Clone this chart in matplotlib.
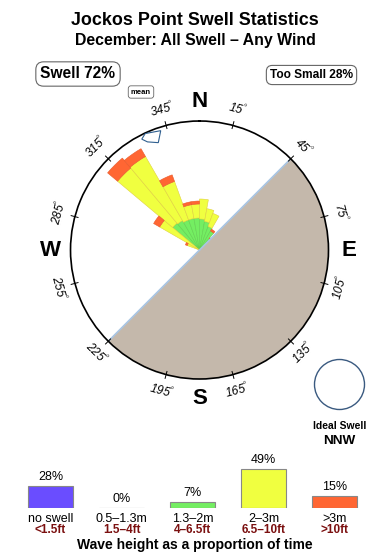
import numpy as np
import matplotlib
matplotlib.use('Agg')
import matplotlib.pyplot as plt
from matplotlib.patches import Circle

plt.rcParams['font.family'] = ['Liberation Sans', 'DejaVu Sans']
plt.rcParams['mathtext.fontset'] = 'custom'
plt.rcParams['mathtext.rm'] = 'Liberation Sans'

# swell rose: % of time per 10 deg sector (sector start, clockwise from N)
dir_start = [290, 300, 310, 320, 330, 340, 350, 0, 10, 20, 30, 40]
pct_green = [0.0, 0.0, 3.5, 3.4, 3.2, 3.2, 3.2, 3.1, 2.9, 2.5, 2.2, 1.5]
pct_yellow = [1.3, 4.6, 7.2, 7.4, 4.1, 1.4, 1.4, 2.0, 1.3, 1.4, 0.0, 0.0]
pct_orange = [0.2, 0.7, 1.3, 0.9, 0.7, 0.3, 0.3, 0.0, 0.0, 0.0, 0.2, 0.1]
rose_max = 12.9

land_from = 45      # land covers 45 -> 225 deg
mean_dir = 338

deg_ticks = [15, 45, 75, 105, 135, 165, 195, 225, 255, 285, 315, 345]
compass = ['N', 'E', 'S', 'W']

# bottom key
band_pct = [28, 0, 7, 49, 15]
band_m = ['no swell', '0.5\u20131.3m', '1.3\u20132m', '2\u20133m', '>3m']
band_ft = ['<1.5ft', '1.5\u20134ft', '4\u20136.5ft', '6.5\u201310ft', '>10ft']

BLUE = '#6a4dff'
GREY = '#bbbbbb'
GREEN = '#74ee62'
YELLOW = '#f0ff40'
ORANGE = '#ff6633'
LAND = '#c4b8ab'
band_col = [BLUE, GREY, GREEN, YELLOW, ORANGE]

fig = plt.figure(figsize=(3.9, 5.6), dpi=100)

# overlay in pixel coords for the texts
top = fig.add_axes([0, 0, 1, 1])
top.set_xlim(0, 390)
top.set_ylim(560, 0)
top.axis('off')

top.text(195, 25, 'Jockos Point Swell Statistics', ha='center', va='baseline',
         fontsize=12.9, fontweight='bold')
top.text(195, 45, 'December: All Swell \u2013 Any Wind', ha='center', va='baseline',
         fontsize=11.4, fontweight='bold')
boxkw = dict(boxstyle='round,pad=0.3,rounding_size=0.5', fc='white', ec='#666666', lw=0.8)
top.text(78, 78.5, 'Swell 72%', ha='center', va='baseline', fontsize=11.2,
         fontweight='bold', bbox=boxkw)
top.text(141, 93.5, 'mean', ha='center', va='baseline', fontsize=5.5,
         fontweight='bold', bbox=dict(boxstyle='round,pad=0.35', fc='white', ec='#666666', lw=0.6))
top.text(311.5, 78, 'Too Small 28%', ha='center', va='baseline', fontsize=8.6,
         fontweight='bold', bbox=boxkw)

top.add_patch(Circle((339.5, 384.5), 25, fill=False, ec='#3a5a80', lw=1))
top.text(339.5, 429, 'Ideal Swell', ha='center', va='baseline', fontsize=7.5, fontweight='bold')
top.text(339.5, 444, 'NNW', ha='center', va='baseline', fontsize=9.7, fontweight='bold')
top.text(195, 549, 'Wave height as a proportion of time', ha='center', va='baseline',
         fontsize=10, fontweight='bold')

# rose
ax = fig.add_axes([0.1808, 0.3232, 0.6615, 0.4607], projection='polar')
ax.set_theta_zero_location('N')
ax.set_theta_direction(-1)
ax.set_ylim(0, rose_max)
ax.set_xticks([])
ax.set_yticks([])
ax.grid(False)
ax.spines['polar'].set_linewidth(1.2)

th = np.radians(dir_start)
w = np.radians(10)
g = np.array(pct_green)
y = np.array(pct_yellow)
o = np.array(pct_orange)
for vals, base, col, ec in [(g, 0 * g, GREEN, '#62d050'),
                            (y, g, YELLOW, '#e0d040'),
                            (o, g + y, ORANGE, '#e85a2a')]:
    m = vals > 0
    ax.bar(th[m], vals[m], width=w, bottom=base[m], align='edge',
           color=col, edgecolor=ec, lw=0.4)

# land
ax.bar(np.radians(land_from), rose_max, width=np.pi, align='edge',
       color=LAND, lw=0, zorder=1.5)
for a in (land_from, land_from + 180):
    ax.plot([np.radians(a)] * 2, [0, rose_max], color='#a9c5e3', lw=1.2, zorder=1.6)

# mean direction marker
mth = np.radians(mean_dir + np.array([-5.5, -3.0, 4.0, 1.0, -3.7, -5.5]))
mr = np.array([12.5, 12.85, 12.55, 11.5, 12.0, 12.5])
ax.fill(mth, mr, fc='white', ec='#2f5f8f', lw=0.8, zorder=3)

for d in deg_ticks:
    rad = np.radians(d)
    ax.plot([rad, rad], [rose_max * 0.975, rose_max * 1.03], color='k', lw=0.7,
            clip_on=False)
    rot = (-d) % 360
    if 90 < rot < 270:
        rot -= 180
    elif rot >= 270:
        rot -= 360
    ax.text(rad, rose_max * 1.13, '%d$^{\u00b0}$' % d, rotation=rot, rotation_mode='anchor',
            ha='center', va='center', fontsize=8.5, fontstyle='italic', clip_on=False)

for i, c in enumerate(compass):
    ax.text(np.radians(90 * i), rose_max * 1.155, c, ha='center', va='center',
            fontsize=16, fontweight='bold', clip_on=False)

# key bars
axb = fig.add_axes([0, 52 / 560, 1, 60 / 560])
axb.set_xlim(-50.5 / 71, (390 - 50.5) / 71)
axb.set_ylim(0, 75)
axb.axis('off')
axb.bar(range(len(band_pct)), band_pct, width=0.634, color=band_col,
        edgecolor='#888888', lw=0.8)
for i, p in enumerate(band_pct):
    axb.annotate('%d%%' % p, (i, p), xytext=(0, 9), textcoords='offset pixels',
                 ha='center', va='center', fontsize=9, annotation_clip=False)
    axb.annotate(band_m[i], (i, 0), xytext=(0, -11), textcoords='offset pixels',
                 ha='center', va='center', fontsize=9, annotation_clip=False)
    axb.annotate(band_ft[i], (i, 0), xytext=(0, -22), textcoords='offset pixels',
                 ha='center', va='center', fontsize=8.5, fontweight='bold',
                 color='#7b1010', annotation_clip=False)

fig.savefig('out.png', dpi=100)
